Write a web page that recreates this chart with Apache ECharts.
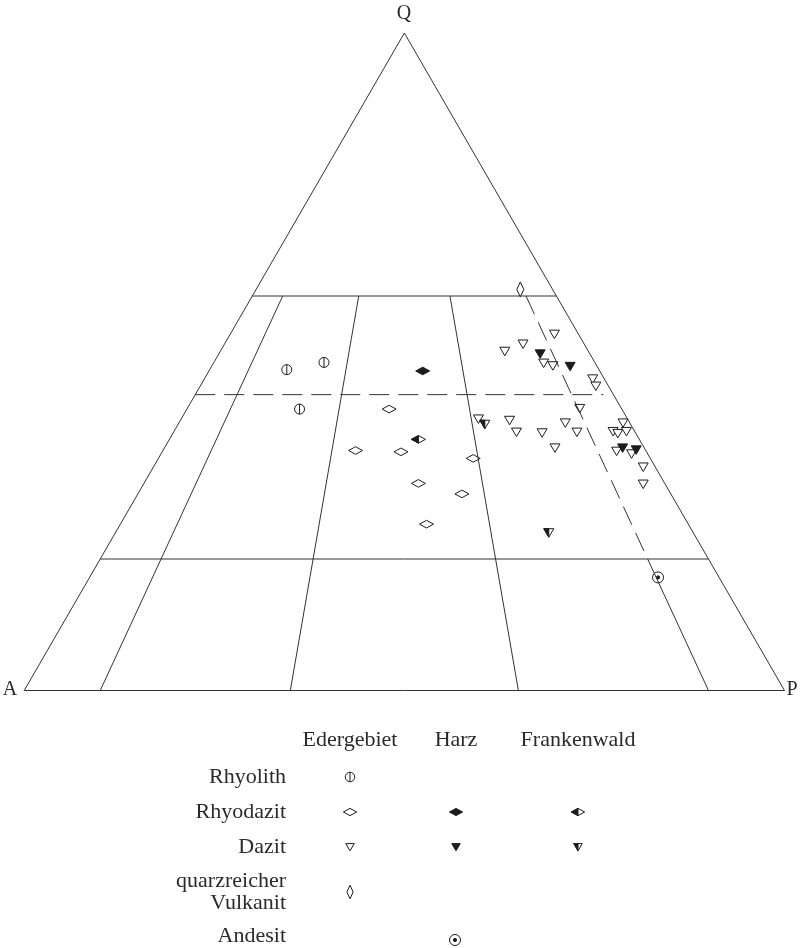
<!DOCTYPE html>
<html>
<head>
<meta charset="UTF-8">
<title>QAP-Diagramm</title>
</head>
<body style="margin:0;background:#fff">
<div id="main" style="width:800px;height:948px;"></div>
<script src="https://cdn.jsdelivr.net/npm/echarts@6/dist/echarts.min.js"></script>
<script>
// Punkte als [Q in %, P/(A+P) in %]
var ederRhyolith = [[48.8, 19.8], [49.9, 28.9], [42.8, 25.9]];
var ederRhyodazit = [[42.8, 46.5], [36.5, 39.9], [36.3, 49.3], [35.3, 64.0], [31.5, 52.7], [29.9, 60.8], [25.3, 53.9]];
var harzRhyodazit = [[48.6, 54.7]];
var frankRhyodazit = [[38.2, 53.0]];
var ederDazit = [
  [54.2, 93.1], [52.7, 83.0], [51.6, 77.3], [49.8, 86.5], [49.4, 88.6], [47.4, 97.1], [46.3, 96.9],
  [42.9, 90.4], [41.3, 66.6], [41.1, 73.5], [39.3, 74.3], [39.2, 79.8], [40.7, 85.7], [39.3, 87.4],
  [36.9, 81.4], [40.7, 98.5], [39.4, 95.3], [39.1, 96.1], [39.4, 98.2], [36.4, 93.9], [36.0, 96.7],
  [34.0, 97.6], [31.4, 95.8]
];
var harzDazit = [[51.2, 86.6], [49.3, 93.0], [36.9, 95.5], [36.6, 98.1]];
var frankDazit = [[40.5, 67.8], [24.0, 75.0]];
var ederQuarzVulkanit = [[61.0, 89.1]];
var harzAndesit = [[17.2, 90.3]];

// Feldgrenzen
var qLines = [60, 20];
var ratioLines = [10, 35, 65];
var dashQ = 45, dashQEnd = 97.6;

var gebiete = ['Edergebiet', 'Harz', 'Frankenwald'];
var gesteine = ['Rhyolith', 'Rhyodazit', 'Dazit', 'quarzreicher\nVulkanit', 'Andesit'];

// Q, P/(A+P) -> x, y im Dreieck
function tern(q, r) {
  return [(100 - q) * r / 100 + q / 2, q];
}

var ink = '#1c1c1c';
function mark(kind, cx, cy, k) {
  var ch = [];
  k = k || 1;
  function poly(pts, fill, noStroke) {
    ch.push({ type: 'polygon', shape: { points: pts.map(function (p) { return [p[0] * k, p[1] * k]; }) },
      style: { fill: fill, stroke: noStroke ? null : ink, lineWidth: 1 } });
  }
  function circ(r, fill) {
    ch.push({ type: 'circle', shape: { cx: 0, cy: 0, r: r * k }, style: { fill: fill, stroke: ink, lineWidth: 1 } });
  }
  var dia = [[-7, 0], [0, -3.8], [7, 0], [0, 3.8]];
  var tri = [[-5, -4], [5, -4], [0, 4.5]];
  if (kind == 'rhyolith') {
    circ(5, '#fff');
    ch.push({ type: 'line', shape: { x1: 0, y1: -5 * k, x2: 0, y2: 5 * k }, style: { stroke: ink, lineWidth: 1 } });
  } else if (kind == 'diaOpen') {
    poly(dia, '#fff');
  } else if (kind == 'diaFull') {
    poly(dia, ink);
  } else if (kind == 'diaHalf') {
    poly(dia, '#fff');
    poly([[-7, 0], [0, -3.8], [0, 3.8]], ink);
  } else if (kind == 'tall') {
    poly([[-3.5, 0], [0, -7.5], [3.5, 0], [0, 7.5]], '#fff');
  } else if (kind == 'triOpen') {
    poly(tri, '#fff');
  } else if (kind == 'triFull') {
    poly(tri, ink);
  } else if (kind == 'triHalf') {
    poly(tri, '#fff');
    poly([[-5, -4], [0, -4], [0, 4.5]], ink);
  } else if (kind == 'andesit') {
    circ(5.5, '#fff');
    circ(1.6, ink);
  }
  return { type: 'group', x: cx, y: cy, children: ch };
}

var series = [];
function seg(a, b, dashed) {
  series.push({
    type: 'line', data: [a, b], symbol: 'none', silent: true, animation: false,
    lineStyle: { color: '#333', width: 1, type: dashed ? [20, 9] : 'solid' }
  });
}
// Dreieck
seg(tern(100, 0), tern(0, 0));
seg(tern(100, 0), tern(0, 100));
seg(tern(0, 0), tern(0, 100));
qLines.forEach(function (q) { seg(tern(q, 0), tern(q, 100)); });
ratioLines.forEach(function (r) { seg(tern(60, r), tern(0, r)); });
seg(tern(20, 90), tern(0, 90));
seg(tern(60, 90), tern(20, 90), true);
seg(tern(dashQ, 0), tern(dashQ, dashQEnd), true);

function pts(list, kind) {
  series.push({
    type: 'custom', silent: true, animation: false,
    data: list.map(function (d) { return tern(d[0], d[1]); }),
    renderItem: function (params, api) {
      var p = api.coord([api.value(0), api.value(1)]);
      return mark(kind, p[0], p[1], 1);
    }
  });
}
pts(ederRhyolith, 'rhyolith');
pts(ederRhyodazit, 'diaOpen');
pts(harzRhyodazit, 'diaFull');
pts(frankRhyodazit, 'diaHalf');
pts(ederDazit, 'triOpen');
pts(harzDazit, 'triFull');
pts(frankDazit, 'triHalf');
pts(ederQuarzVulkanit, 'tall');
pts(harzAndesit, 'andesit');

var font = '22px "Liberation Serif", "DejaVu Serif", serif';
function txt(s, x, y, align, size) {
  return { type: 'text', x: x, y: y, style: { text: s, fill: '#2a2a2a', font: (size || 22) + 'px "Liberation Serif", serif', align: align, verticalAlign: 'middle', lineHeight: 22 } };
}
var colX = [350, 456, 578];
var rowY = [777, 812, 847, 892, 936];
var graphic = [
  txt('Q', 404, 14, 'center', 20),
  txt('A', 10, 690, 'center', 20),
  txt('P', 792, 690, 'center', 20)
];
gebiete.forEach(function (g, i) { graphic.push(txt(g, colX[i], 740, 'center')); });
gesteine.forEach(function (g, i) { graphic.push(txt(g, 286, rowY[i], 'right')); });
graphic.push(mark('rhyolith', colX[0], rowY[0], 0.95));
graphic.push(mark('diaOpen', colX[0], rowY[1], 0.95));
graphic.push(mark('diaFull', colX[1], rowY[1], 0.95));
graphic.push(mark('diaHalf', colX[2], rowY[1], 0.95));
graphic.push(mark('triOpen', colX[0], rowY[2], 0.85));
graphic.push(mark('triFull', colX[1], rowY[2], 0.85));
graphic.push(mark('triHalf', colX[2], rowY[2], 0.85));
graphic.push(mark('tall', colX[0], rowY[3], 0.9));
graphic.push(mark('andesit', colX[1] - 1, rowY[4] + 4, 1));

var chart = echarts.init(document.getElementById('main'));
chart.setOption({
  backgroundColor: '#fff',
  animation: false,
  grid: { left: 24.2, right: 15.5, top: 33, bottom: 257.5 },
  xAxis: { type: 'value', min: 0, max: 100, show: false },
  yAxis: { type: 'value', min: 0, max: 100, show: false },
  graphic: graphic,
  series: series
});
</script>
</body>
</html>
